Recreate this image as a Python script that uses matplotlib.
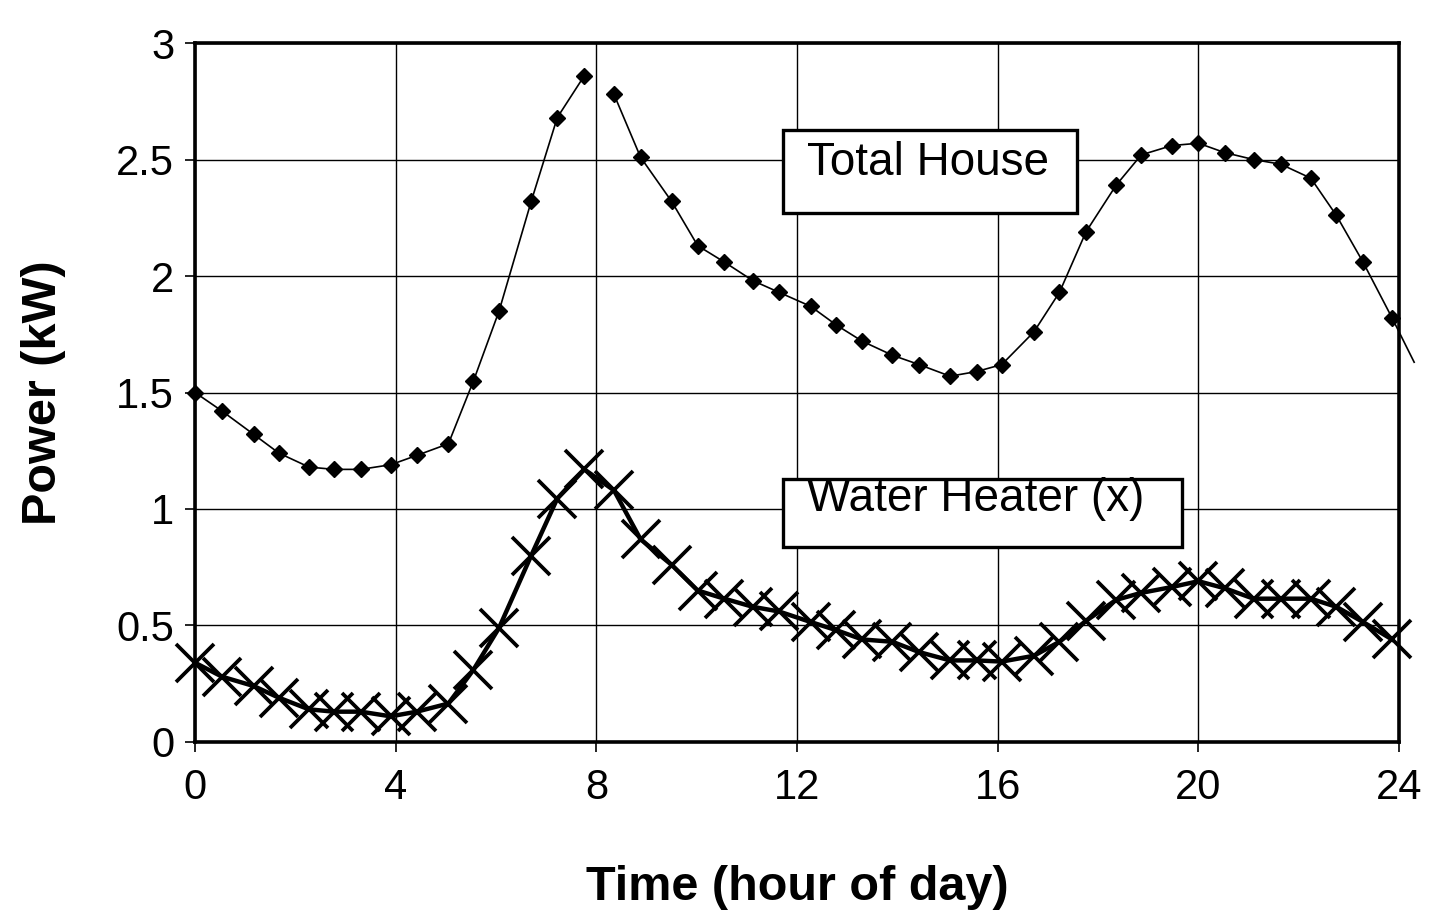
import matplotlib.pyplot as plt
from matplotlib.patches import Rectangle
from matplotlib.ticker import FuncFormatter

plt.rcParams['font.family'] = ['Liberation Sans', 'DejaVu Sans']

## data (hour of day, kW)
hours = [0, 0.54, 1.17, 1.67, 2.27, 2.77, 3.3, 3.9, 4.42, 5.05, 5.55, 6.06,
         6.7, 7.22, 7.76, 8.35, 8.88, 9.5, 10.02, 10.55, 11.12, 11.64, 12.27,
         12.78, 13.3, 13.9, 14.43, 15.05, 15.58, 16.08, 16.72, 17.23, 17.76,
         18.36, 18.86, 19.47, 20.0, 20.52, 21.1, 21.64, 22.24, 22.75, 23.28,
         23.86]
house_kw = [1.50, 1.42, 1.32, 1.24, 1.18, 1.17, 1.17, 1.19, 1.23, 1.28, 1.55,
            1.85, 2.32, 2.68, 2.86, 2.78, 2.51, 2.32, 2.13, 2.06, 1.98, 1.93,
            1.87, 1.79, 1.72, 1.66, 1.62, 1.57, 1.59, 1.62, 1.76, 1.93, 2.19,
            2.39, 2.52, 2.56, 2.57, 2.53, 2.50, 2.48, 2.42, 2.26, 2.06, 1.82]
heater_kw = [0.34, 0.28, 0.24, 0.19, 0.14, 0.13, 0.13, 0.11, 0.13, 0.165, 0.31,
             0.49, 0.80, 1.045, 1.17, 1.08, 0.87, 0.76, 0.65, 0.615, 0.58,
             0.56, 0.515, 0.48, 0.44, 0.43, 0.386, 0.35, 0.35, 0.345, 0.37,
             0.43, 0.52, 0.61, 0.64, 0.665, 0.69, 0.66, 0.615, 0.615, 0.615,
             0.58, 0.515, 0.44]
# the house trace runs on past the right edge without a marker
house_tail_hour = [23.86, 24.3]
house_tail_kw = [1.82, 1.63]

x_ticks = [0, 4, 8, 12, 16, 20, 24]
y_ticks = [0, 0.5, 1, 1.5, 2, 2.5, 3]

fig = plt.figure(figsize=(14.3, 9.16), dpi=100)
ax = fig.add_axes([0.1364, 0.19, 0.842, 0.763])

ax.set_xlim(0, 24)
ax.set_ylim(0, 3)
ax.set_xticks(x_ticks)
ax.set_yticks(y_ticks)
ax.yaxis.set_major_formatter(FuncFormatter(lambda v, p: '{:g}'.format(v)))
ax.grid(True, color='k', lw=1.0)
ax.set_axisbelow(True)
for s in ax.spines.values():
    s.set_linewidth(2.6)
ax.tick_params(direction='out', length=7, width=1.2, labelsize=30)
ax.tick_params(axis='y', pad=8)
ax.tick_params(axis='x', pad=12)

# label boxes
ax.add_patch(Rectangle((11.72, 2.27), 5.86, 0.355, fc='white', ec='k',
                       lw=2.4, zorder=2))
ax.add_patch(Rectangle((11.72, 0.835), 7.95, 0.295, fc='white', ec='k',
                       lw=2.4, zorder=2))
ax.text(12.2, 2.435, 'Total House', fontsize=33, va='baseline', zorder=3)
ax.text(12.2, 0.99, 'Water Heater (x)', fontsize=33, va='baseline', zorder=3)

# total house, thin line with diamonds (gap just after the morning peak)
ax.plot(hours[:15], house_kw[:15], c='k', lw=1.2, marker='D', ms=8,
        clip_on=False, zorder=4)
ax.plot(hours[15:], house_kw[15:], c='k', lw=1.2, marker='D', ms=8,
        clip_on=False, zorder=4)
ax.plot(house_tail_hour, house_tail_kw, c='k', lw=1.2, clip_on=False, zorder=4)

# water heater, heavy line with big crosses
ax.plot(hours, heater_kw, c='k', lw=3.2, marker='x', ms=27, mew=2.7,
        clip_on=False, zorder=5)

ax.set_xlabel('Time (hour of day)', fontsize=35, fontweight='bold', labelpad=41)
ax.set_ylabel('Power (kW)', fontsize=35, fontweight='bold', labelpad=36)

fig.savefig('out.png', dpi=100)
